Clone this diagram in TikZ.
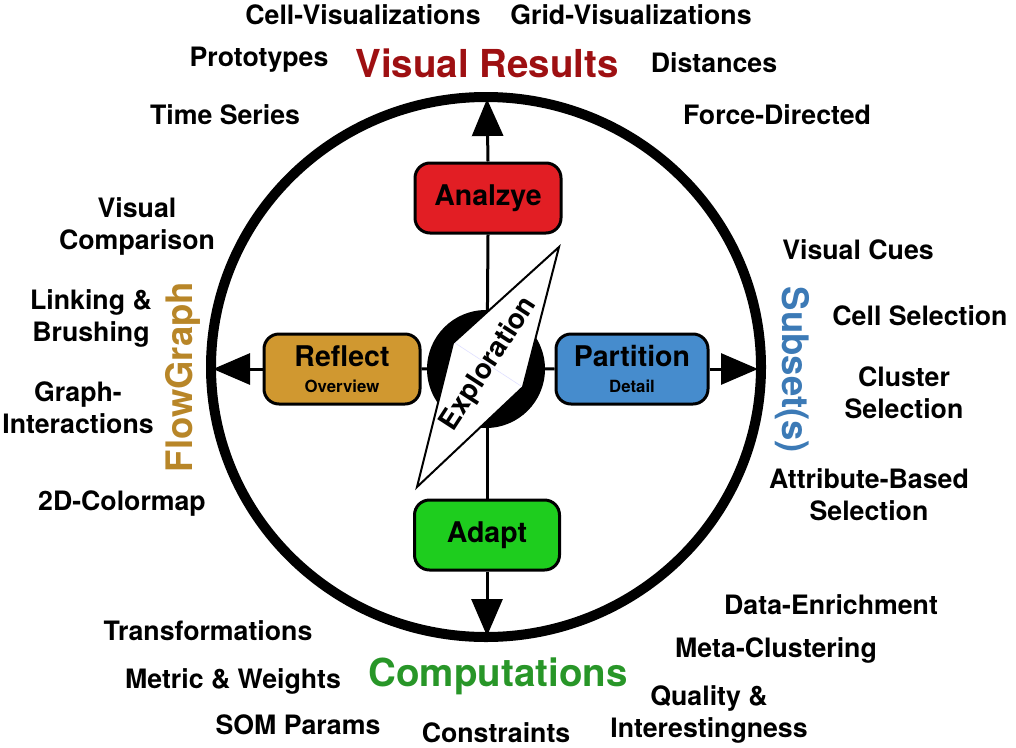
\documentclass[tikz,border=0pt]{standalone}
\usepackage{fontspec}
\setmainfont{TeX Gyre Heros}
\usetikzlibrary{arrows.meta,backgrounds}
\definecolor{boxred}{RGB}{226,30,36}
\definecolor{boxgreen}{RGB}{30,205,30}
\definecolor{boxorange}{RGB}{208,152,48}
\definecolor{boxblue}{RGB}{70,140,205}
\definecolor{txtred}{RGB}{158,16,18}
\definecolor{txtgreen}{RGB}{40,150,40}
\definecolor{txtgold}{RGB}{184,134,40}
\definecolor{txtblue}{RGB}{60,122,182}
\newcommand{\bxsub}{\fontsize{16.8}{26}\selectfont\bfseries}
\tikzset{
  lbl/.style={font=\fontsize{26.7}{32}\selectfont\bfseries, align=center, inner sep=0pt},
  big/.style={font=\fontsize{38.5}{40}\selectfont\bfseries, inner sep=0pt},
  side/.style={font=\fontsize{36.5}{40}\selectfont\bfseries, inner sep=0pt},
  stagebox/.style={draw=black, line width=3pt, rounded corners=15pt, minimum height=70pt, align=center, inner sep=0pt,
    font=\fontsize{28.5}{26}\selectfont\bfseries},
  conn/.style={line width=3pt},
  arr/.style={line width=3pt, -{Triangle[length=37pt,width=31pt]}},
}
\begin{document}
\begin{tikzpicture}[x=1pt,y=-1pt]
\useasboundingbox (0,0) rectangle (1016,747);
\coordinate (ctr) at (487,368);
\coordinate (ttop) at (487,99);
\coordinate (tbot) at (487,636);
\coordinate (tleft) at (213,369);
\coordinate (tright) at (758,369);
% stage boxes
\node[stagebox, fill=boxred, minimum width=146pt] (analyze) at (488,198) {Analzye};
\node[stagebox, fill=boxgreen, minimum width=145pt] (adapt) at (487,535) {Adapt};
\node[stagebox, fill=boxorange, minimum width=156pt] (reflect) at (342,369) {Reflect\\\bxsub Overview};
\node[stagebox, fill=boxblue, minimum width=152pt] (partition) at (632,369) {Partition\\\bxsub Detail};
\begin{scope}[on background layer]
\draw[line width=10pt] (486,367) ellipse [x radius=275, y radius=270];
\draw[conn] (ctr) -- (analyze.south);
\draw[conn] (ctr) -- (adapt.north);
\draw[conn] (ctr) -- (reflect.east);
\draw[conn] (ctr) -- (partition.west);
\draw[arr] (analyze.north) -- (ttop);
\draw[arr] (adapt.south) -- (tbot);
\draw[arr] (reflect.west) -- (tleft);
\draw[arr] (partition.east) -- (tright);
\end{scope}
% center compass
\fill (486,369) circle [radius=59];
\draw[line width=2pt, fill=white, line join=miter] (559,247) -- (453,343) -- (417,487) -- (523,387) -- cycle;
\draw[blue!12, line width=0.6pt] (455,343) -- (521,386);
\node[font=\fontsize{27.8}{30}\selectfont\bfseries, rotate=57, inner sep=0pt] (explo) at (489,364) {Exploration};
% titles
\node[big, text=txtred] (vr) at (487,63) {Visual Results};
\node[big, text=txtgreen] (comp) at (498,676) {Computations};
\node[side, text=txtgold, rotate=90] (fg) at (183,377) {FlowGraph};
\node[side, text=txtblue, rotate=-90] (ss) at (792,370) {Subset(s)};
% labels
\node[lbl] (l1) at (363,15) {Cell-Visualizations};
\node[lbl] (l2) at (631,15) {Grid-Visualizations};
\node[lbl] (l3) at (259,60) {Prototypes};
\node[lbl] (l4) at (714,63) {Distances};
\node[lbl] (l5) at (225,115) {Time Series};
\node[lbl] (l6) at (777,115) {Force-Directed};
\node[lbl] (l7) at (137,226) {Visual\\Comparison};
\node[lbl] (l8) at (858,250) {Visual Cues};
\node[lbl] (l9) at (91,318) {Linking \&\\Brushing};
\node[lbl] (l10) at (920,316) {Cell Selection};
\node[lbl] (l11) at (904,393) {Cluster\\Selection};
\node[lbl] (l12) at (78,408) {Graph-\\Interactions};
\node[lbl] (l13) at (869,495) {Attribute-Based\\Selection};
\node[lbl] (l14) at (122,504) {2D-Colormap};
\node[lbl] (l15) at (831,605) {Data-Enrichment};
\node[lbl] (l16) at (208,631) {Transformations};
\node[lbl] (l17) at (776,650) {Meta-Clustering};
\node[lbl] (l18) at (233,681) {Metric \& Weights};
\node[lbl] (l19) at (709,714) {Quality \&\\Interestingness};
\node[lbl] (l20) at (298,725) {SOM Params};
\node[lbl] (l21) at (496,733) {Constraints};
\end{tikzpicture}
\end{document}
